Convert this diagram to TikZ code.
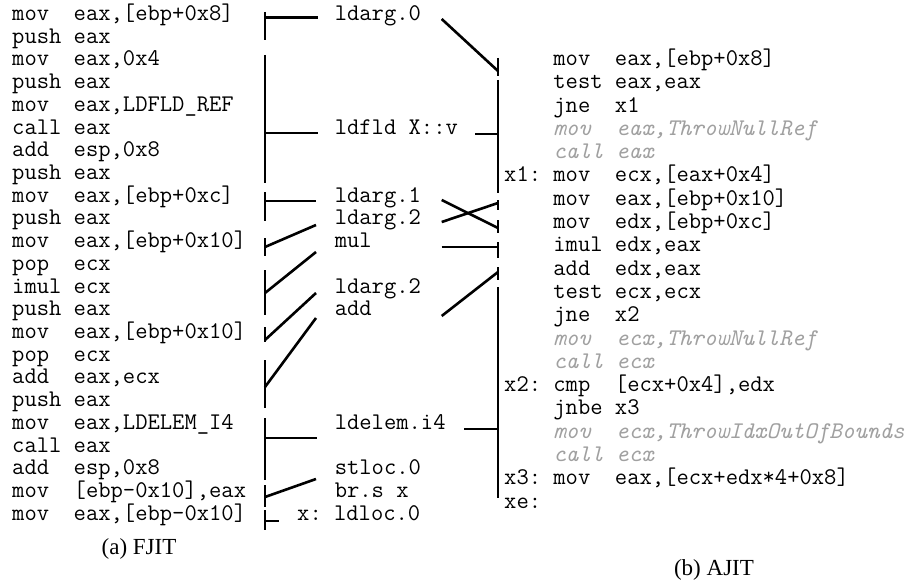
\documentclass[tikz,border=0pt]{standalone}
\usepackage{fontspec}
\newfontfamily\capfont{Liberation Serif}
\definecolor{ghost}{RGB}{160,160,160}
\begin{document}
\begin{tikzpicture}[x=1pt,y=-1pt,
  code/.style={anchor=mid west,inner sep=0pt,font=\ttfamily\fontsize{23.9}{26}\selectfont},
  captext/.style={inner sep=0pt,font=\capfont\fontsize{23}{26}\selectfont},
  wire/.style={line width=2.6pt}]
\useasboundingbox (0,0) rectangle (916,586);
% left listing (FJIT)
\foreach \i/\t in {0/{mov~~eax,[ebp+0x8]},1/{push~eax},2/{mov~~eax,0x4},3/{push~eax},
  4/{mov~~eax,LDFLD\_REF},5/{call~eax},6/{add~~esp,0x8},7/{push~eax},
  8/{mov~~eax,[ebp+0xc]},9/{push~eax},10/{mov~~eax,[ebp+0x10]},11/{pop~~ecx},
  12/{imul~ecx},13/{push~eax},14/{mov~~eax,[ebp+0x10]},15/{pop~~ecx},
  16/{add~~eax,ecx},17/{push~eax},18/{mov~~eax,LDELEM\_I4},19/{call~eax},
  20/{add~~esp,0x8},21/{mov~~[ebp-0x10],eax},22/{mov~~eax,[ebp-0x10]}}
  \node[code] (L\i) at (12,{18.3+22.72*\i}) {\t};
% middle listing (CIL)
\node[code] (M0) at (334.6,{18.3+22.72*0}) {ldarg.0};
\node[code] (M1) at (334.6,{18.3+22.72*5}) {ldfld X::v};
\node[code] (M2) at (334.6,{18.3+22.72*8}) {ldarg.1};
\node[code] (M3) at (334.6,{18.3+22.72*9}) {ldarg.2};
\node[code] (M4) at (334.6,{18.3+22.72*10}) {mul};
\node[code] (M5) at (334.6,{18.3+22.72*12}) {ldarg.2};
\node[code] (M6) at (334.6,{18.3+22.72*13}) {add};
\node[code] (M7) at (334.6,{18.3+22.72*18}) {ldelem.i4};
\node[code] (M8) at (334.6,{18.3+22.72*20}) {stloc.0};
\node[code] (M9) at (334.6,{18.3+22.72*21}) {br.s x};
\node[code] (M10) at (297,{18.3+22.72*22}) {x:~ldloc.0};
% right listing (AJIT)
\foreach \i/\t in {0/{~~~~mov~~eax,[ebp+0x8]},1/{~~~~test~eax,eax},2/{~~~~jne~~x1},
  3/{~~~~{\color{ghost}\itshape mov~~eax,ThrowNullRef}},4/{~~~~{\color{ghost}\itshape call~eax}},
  5/{x1:~mov~~ecx,[eax+0x4]},6/{~~~~mov~~eax,[ebp+0x10]},7/{~~~~mov~~edx,[ebp+0xc]},
  8/{~~~~imul~edx,eax},9/{~~~~add~~edx,eax},10/{~~~~test~ecx,ecx},11/{~~~~jne~~x2},
  12/{~~~~{\color{ghost}\itshape mov~~ecx,ThrowNullRef}},13/{~~~~{\color{ghost}\itshape call~ecx}},
  14/{x2:~cmp~~[ecx+0x4],edx},15/{~~~~jnbe~x3},
  16/{~~~~{\color{ghost}\itshape mov~~ecx,ThrowIdxOutOfBounds}},17/{~~~~{\color{ghost}\itshape call~ecx}},
  18/{x3:~mov~~eax,[ecx+edx*4+0x8]},19/{xe:}}
  \node[code] (R\i) at (504,{63.3+23.3*\i}) {\t};
% captions
\node[captext] (capA) at (139,549) {(a) FJIT};
\node[captext] (capB) at (714,570) {(b) AJIT};
% left brackets
\coordinate (gt1) at (265,12);  \coordinate (gb1) at (265,40);  \coordinate (ga1) at (265,17.5); \coordinate (ge1) at (318,17.5);
\coordinate (gt2) at (265,55);  \coordinate (gb2) at (265,183); \coordinate (ga2) at (265,133); \coordinate (ge2) at (318,133);
\coordinate (gt3) at (265,192); \coordinate (gb3) at (265,221); \coordinate (ga3) at (265,201); \coordinate (ge3) at (316,201);
\coordinate (gt4) at (265,238); \coordinate (gb4) at (265,256); \coordinate (ga4) at (265,247); \coordinate (ge4) at (316,225);
\coordinate (gt5) at (265,270); \coordinate (gb5) at (265,315); \coordinate (ga5) at (265,293); \coordinate (ge5) at (316,252);
\coordinate (gt6) at (265,327); \coordinate (gb6) at (265,342); \coordinate (ga6) at (265,340); \coordinate (ge6) at (316,293);
\coordinate (gt7) at (265,360); \coordinate (gb7) at (265,408); \coordinate (ga7) at (265,387); \coordinate (ge7) at (316,318);
\coordinate (gt8) at (265,418); \coordinate (gb8) at (265,480); \coordinate (ga8) at (265,438); \coordinate (ge8) at (317,438);
\coordinate (gt9) at (265,485); \coordinate (gb9) at (265,507); \coordinate (ga9) at (265,497); \coordinate (ge9) at (316,479);
\coordinate (gt10) at (265,510); \coordinate (gb10) at (265,530); \coordinate (ga10) at (265,521); \coordinate (ge10) at (279,521);
\foreach \k in {1,...,10} {\draw[wire] (gt\k) -- (gb\k); \draw[wire] (ga\k) -- (ge\k);}
% right brackets
\coordinate (rt1) at (498,58);  \coordinate (rb1) at (498,76);  \coordinate (ra1) at (498,71);  \coordinate (re1) at (441.7,19);
\coordinate (rt2) at (498,80);  \coordinate (rb2) at (498,193); \coordinate (ra2) at (498,134); \coordinate (re2) at (475,134);
\coordinate (rt3) at (498,200); \coordinate (rb3) at (498,210); \coordinate (ra3) at (498,203); \coordinate (re3) at (441.7,222);
\coordinate (rt4) at (498,220); \coordinate (rb4) at (498,233); \coordinate (ra4) at (498,228); \coordinate (re4) at (441.7,200);
\coordinate (rt5) at (498,242); \coordinate (rb5) at (498,258); \coordinate (ra5) at (498,247); \coordinate (re5) at (441.7,247);
\coordinate (rt6) at (498,267); \coordinate (rb6) at (498,280); \coordinate (ra6) at (498,272); \coordinate (re6) at (441.7,316);
\coordinate (rt7) at (498,287); \coordinate (rb7) at (498,498); \coordinate (ra7) at (498,429); \coordinate (re7) at (464,429);
\foreach \k in {1,...,7} {\draw[wire] (rt\k) -- (rb\k); \draw[wire] (re\k) -- (ra\k);}
\end{tikzpicture}
\end{document}
